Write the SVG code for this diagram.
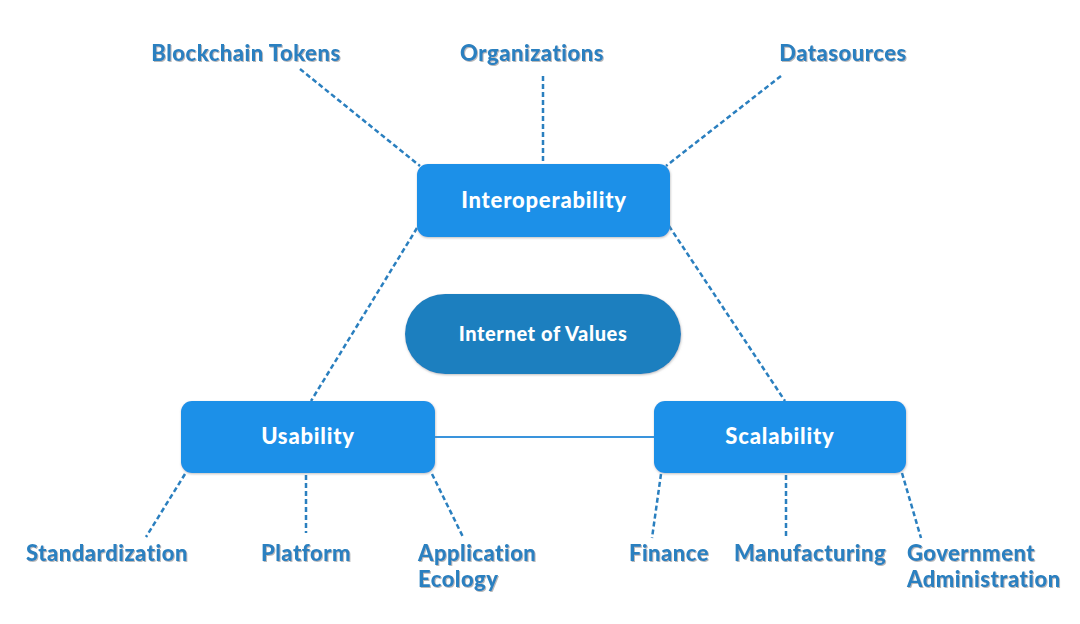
<svg xmlns="http://www.w3.org/2000/svg" width="1080" height="624" viewBox="0 0 1080 624">
<defs>
<filter id="ts" x="-10%" y="-30%" width="120%" height="160%">
<feDropShadow dx="1" dy="1" stdDeviation="0.6" flood-color="#8a8a8a" flood-opacity="0.6"/>
</filter>
<filter id="bs" x="-5%" y="-10%" width="110%" height="125%">
<feDropShadow dx="0.5" dy="1" stdDeviation="1" flood-color="#888888" flood-opacity="0.55"/>
</filter>
</defs>
<style>
.box{fill:#1c90e8;filter:url(#bs);}
.pill{fill:#1f7fbf;filter:url(#bs);}
.wt{font-family:Lato,"Open Sans","DejaVu Sans",sans-serif;font-weight:900;font-size:22px;letter-spacing:0.8px;fill:#ffffff;text-anchor:middle;}
.lb{font-family:Lato,"Open Sans","DejaVu Sans",sans-serif;font-weight:900;font-size:22px;letter-spacing:0.5px;fill:#2a80c0;filter:url(#ts);}
.mid{text-anchor:middle;}
.dash{stroke:#2a7fbf;stroke-width:2.5;stroke-dasharray:5 3;fill:none;}
.solid{stroke:#3a94dc;stroke-width:2;fill:none;}
</style>
<rect width="1080" height="624" fill="#ffffff"/>
<g id="connectors">
<line class="dash" x1="300" y1="69" x2="420" y2="166"/>
<line class="dash" x1="543" y1="76" x2="543" y2="163"/>
<line class="dash" x1="781" y1="76" x2="666" y2="166"/>
<line class="dash" x1="417" y1="228" x2="311" y2="401"/>
<line class="dash" x1="669" y1="226" x2="785" y2="401"/>
<line class="solid" x1="435" y1="437" x2="654" y2="437"/>
<line class="dash" x1="185" y1="474" x2="146" y2="537"/>
<line class="dash" x1="306" y1="475" x2="306" y2="533"/>
<line class="dash" x1="432" y1="474" x2="463" y2="537"/>
<line class="dash" x1="661" y1="474" x2="652" y2="538"/>
<line class="dash" x1="786" y1="475" x2="786" y2="536"/>
<line class="dash" x1="902" y1="473" x2="921" y2="538"/>
</g>
<g id="interoperability">
<rect class="box" x="417" y="164" width="253" height="73" rx="11"/>
<text class="wt" x="544" y="208">Interoperability</text>
</g>
<g id="internet-of-values">
<rect class="pill" x="405" y="294" width="276" height="80" rx="40"/>
<text class="wt" x="543" y="341" style="font-size:20px;letter-spacing:0.6px">Internet of Values</text>
</g>
<g id="usability">
<rect class="box" x="181" y="401" width="254" height="72" rx="11"/>
<text class="wt" x="308" y="444">Usability</text>
</g>
<g id="scalability">
<rect class="box" x="654" y="401" width="252" height="72" rx="11"/>
<text class="wt" x="780" y="444">Scalability</text>
</g>
<g id="blockchain-tokens"><text class="lb mid" x="246" y="61">Blockchain Tokens</text></g>
<g id="organizations"><text class="lb mid" x="532" y="61">Organizations</text></g>
<g id="datasources"><text class="lb mid" x="843" y="61">Datasources</text></g>
<g id="standardization"><text class="lb mid" x="107" y="561">Standardization</text></g>
<g id="platform"><text class="lb mid" x="306" y="561">Platform</text></g>
<g id="application-ecology"><text class="lb" x="418" y="561">Application<tspan x="418" y="587">Ecology</tspan></text></g>
<g id="finance"><text class="lb mid" x="669" y="561">Finance</text></g>
<g id="manufacturing"><text class="lb mid" x="810" y="561">Manufacturing</text></g>
<g id="government-administration"><text class="lb" x="907" y="561">Government<tspan x="907" y="587">Administration</tspan></text></g>
</svg>
